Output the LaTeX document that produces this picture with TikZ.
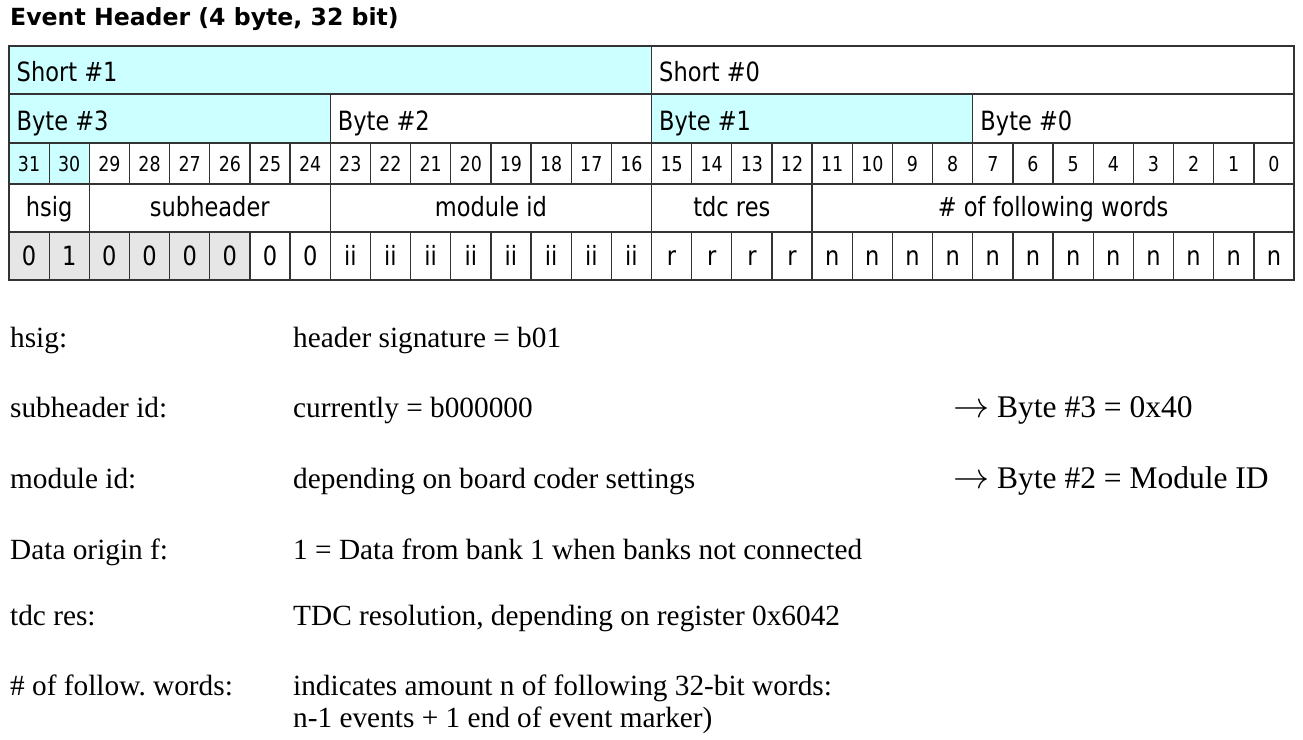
\documentclass[tikz,border=0pt]{standalone}
\usepackage{graphicx}
\usepackage{fontspec}
\setmainfont{Liberation Serif}
\newfontfamily\tabfont[FakeStretch=0.85]{DejaVu Sans}
\newfontfamily\titlefont{DejaVu Sans}
\definecolor{cy}{HTML}{CCFFFF}
\definecolor{gr}{HTML}{E6E6E6}
\definecolor{lc}{HTML}{333333}
\def\cw{40.15625}
\newcommand\myarrow{\scalebox{1.45}{$\rightarrow$}}
\begin{document}
\begin{tikzpicture}[x=1pt,y=-1pt,
  cellbox/.style={draw=lc, line width=1.3pt, inner sep=0pt, outer sep=0pt, anchor=north west,
    font=\tabfont\fontsize{26.5}{26.5}\selectfont},
  hdrlabel/.style={anchor=base west, inner sep=0pt, font=\tabfont\fontsize{26.5}{26.5}\selectfont},
  bitfont/.style={font=\tabfont\fontsize{20.5}{20.5}\selectfont, text height=19pt, text depth=3pt},
  fieldrow/.style={text height=21pt, text depth=5pt},
  valrow/.style={text height=22pt, text depth=4pt},
  desc/.style={anchor=base west, inner sep=0pt, font=\fontsize{29.3}{32}\selectfont},
  arrowtxt/.style={anchor=base west, inner sep=0pt, font=\fontsize{31.5}{32}\selectfont},
  titlestyle/.style={anchor=base west, inner sep=0pt, font=\titlefont\bfseries\fontsize{23.6}{24}\selectfont}]
\useasboundingbox[fill=white] (0,0) rectangle (1303,739);

\node[titlestyle] (title) at (10,25) {Event Header (4 byte, 32 bit)};

% row 1: shorts
\node[cellbox, fill=cy, minimum width=16*\cw pt, minimum height=48pt] (s1) at (9,46) {};
\node[cellbox, fill=white, minimum width=16*\cw pt, minimum height=48pt] (s0) at (9+16*\cw,46) {};
\node[hdrlabel] (s1t) at (16.5,81) {Short \#1};
\node[hdrlabel] (s0t) at (9+16*\cw+7.5,81) {Short \#0};

% row 2: bytes
\foreach \k/\n/\f in {0/3/cy, 1/2/white, 2/1/cy, 3/0/white} {
  \node[cellbox, fill=\f, minimum width=8*\cw pt, minimum height=49pt] (by\n) at (9+8*\k*\cw,94) {};
  \node[hdrlabel] (by\n t) at (9+8*\k*\cw+7.5,130) {Byte \#\n};
}

% row 3: bit numbers
\foreach \b in {31,...,0} {
  \ifnum\b>29 \def\fc{cy}\else\def\fc{white}\fi
  \node[cellbox, bitfont, fill=\fc, minimum width=\cw pt, minimum height=41pt] (bit\b) at (9+31*\cw-\b*\cw,143) {\b};
}

% row 4: fields
\foreach \c/\w/\t/\nm in {0/2/hsig/fhsig, 2/6/subheader/fsub, 8/8/module id/fmod, 16/4/tdc res/ftdc, 20/12/\# of following words/fnum} {
  \node[cellbox, fieldrow, fill=white, minimum width=\w*\cw pt, minimum height=48pt] (\nm) at (9+\c*\cw,184) {\t};
}

% row 5: values
\foreach \b in {31,...,0} {
  \ifnum\b>25 \def\fc{gr}\else\def\fc{white}\fi
  \ifnum\b=30 \def\vt{1}\else
    \ifnum\b>23 \def\vt{0}\else
      \ifnum\b>15 \def\vt{ii}\else
        \ifnum\b>11 \def\vt{r}\else\def\vt{n}\fi
      \fi
    \fi
  \fi
  \node[cellbox, valrow, fill=\fc, minimum width=\cw pt, minimum height=48pt] (val\b) at (9+31*\cw-\b*\cw,232) {\vt};
}

% description
\node[desc] (d1a) at (10,347) {hsig:};
\node[desc] (d1b) at (293,347) {header signature = b01};
\node[desc] (d2a) at (10,417) {subheader id:};
\node[desc] (d2b) at (293,417) {currently = b000000};
\node[arrowtxt] (d2c) at (953,417) {\myarrow{} Byte \#3 = 0x40};
\node[desc] (d3a) at (10,488) {module id:};
\node[desc] (d3b) at (293,488) {depending on board coder settings};
\node[arrowtxt] (d3c) at (953,488) {\myarrow{} Byte \#2 = Module ID};
\node[desc] (d4a) at (10,559) {Data origin f:};
\node[desc] (d4b) at (293,559) {1 = Data from bank 1 when banks not connected};
\node[desc] (d5a) at (10,625) {tdc res:};
\node[desc] (d5b) at (293,625) {TDC resolution, depending on register 0x6042};
\node[desc] (d6a) at (10,695) {\# of follow.\ words:};
\node[desc] (d6b) at (293,695) {indicates amount n of following 32-bit words:};
\node[desc] (d6c) at (293,727) {n-1 events + 1 end of event marker)};
\end{tikzpicture}
\end{document}
